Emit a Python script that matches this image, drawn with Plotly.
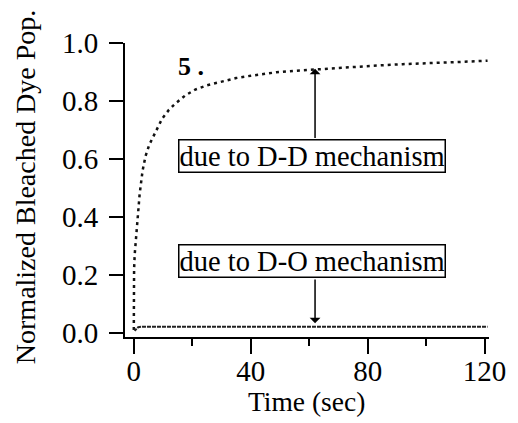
import plotly.graph_objects as go

# D-D mechanism curve (dotted)
t_dd = [0, 0, 0.1, 0.3, 0.7, 1.3, 2, 3, 4, 5.3, 7.7, 9.7, 12, 14, 17.6, 21, 25, 28.8,
        35, 40, 48.8, 55, 62, 70, 75, 84.6, 92, 100, 110, 121]
y_dd = [0.01, 0.15, 0.22, 0.27, 0.32, 0.39, 0.48, 0.56, 0.61, 0.65, 0.70, 0.74, 0.77,
        0.79, 0.82, 0.84, 0.855, 0.865, 0.88, 0.888, 0.90, 0.905, 0.91, 0.915, 0.918,
        0.924, 0.928, 0.93, 0.935, 0.94]

# D-O mechanism curve (near-flat)
t_do = [0, 0.5, 1.5, 3, 20, 40, 60, 80, 100, 121]
y_do = [0.015, 0.01, 0.02, 0.022, 0.022, 0.022, 0.022, 0.022, 0.022, 0.022]

x_ticks = [0, 40, 80, 120]
x_minor_ticks = [20, 60, 100]
y_ticks = [0.0, 0.2, 0.4, 0.6, 0.8, 1.0]
y_tick_labels = ["0.0", "0.2", "0.4", "0.6", "0.8", "1.0"]

FONT = "Liberation Serif, Times New Roman, serif"
FS = 27.5
BFS = 28.5
TFS = 29

fig = go.Figure()
fig.add_trace(go.Scatter(x=t_dd, y=y_dd, mode="lines",
                         line=dict(color="#111", width=2.5, dash="3px,4px"),
                         showlegend=False))
fig.add_trace(go.Scatter(x=t_do, y=y_do, mode="lines",
                         line=dict(color="#222", width=2, dash="4px,1px"),
                         showlegend=False))

annotations = [
    dict(x=19.6, y=0.921, xref="x", yref="y", text="<b>5</b> <b>.</b>", showarrow=False,
         font=dict(family=FONT, size=26, color="black")),
    dict(x=60.9, y=0.612, xref="x", yref="y", text="due to D-D mechanism", showarrow=False,
         font=dict(family=FONT, size=BFS, color="black"),
         bordercolor="black", borderwidth=1.5, borderpad=0, bgcolor="white"),
    dict(x=60.9, y=0.248, xref="x", yref="y", text="due to D-O mechanism", showarrow=False,
         font=dict(family=FONT, size=BFS, color="black"),
         bordercolor="black", borderwidth=1.5, borderpad=0, bgcolor="white"),
    # arrows
    dict(x=62, y=0.912, ax=62, ay=0.668, xref="x", yref="y", axref="x", ayref="y",
         text="", showarrow=True, arrowhead=1, arrowsize=1.2, arrowwidth=1.5, arrowcolor="black"),
    dict(x=62, y=0.034, ax=62, ay=0.19, xref="x", yref="y", axref="x", ayref="y",
         text="", showarrow=True, arrowhead=1, arrowsize=1.2, arrowwidth=1.5, arrowcolor="black"),
    # axis titles
    dict(x=(310 - 125) / 372, y=(337 - 401) / 294, xref="paper", yref="paper",
         text="Time (sec)", showarrow=False, xanchor="center", yanchor="middle",
         font=dict(family=FONT, size=FS, color="black")),
    dict(x=(23 - 125) / 372, y=(337 - 187) / 294, xref="paper", yref="paper",
         text="Normalized Bleached Dye Pop.", showarrow=False, textangle=-90,
         xanchor="center", yanchor="middle",
         font=dict(family=FONT, size=28, color="black")),
]

fig.update_layout(
    width=518, height=423,
    margin=dict(l=125, r=21, t=43, b=86),
    paper_bgcolor="white", plot_bgcolor="white",
    font=dict(family=FONT, size=FS, color="black"),
    annotations=annotations,
    xaxis=dict(range=[-3.01, 121.5], tickmode="array", tickvals=x_ticks,
               ticks="outside", ticklen=15, tickwidth=2, tickcolor="black",
               ticklabelstandoff=-8,
               showline=True, linecolor="black", linewidth=2,
               showgrid=False, zeroline=False,
               minor=dict(tickmode="array", tickvals=x_minor_ticks, ticks="outside",
                          ticklen=7, tickwidth=2, tickcolor="black", showgrid=False),
               tickfont=dict(family=FONT, size=TFS, color="black")),
    yaxis=dict(range=[-0.0138, 1.001], tickmode="array", tickvals=y_ticks, ticktext=y_tick_labels,
               ticks="outside", ticklen=14, tickwidth=2, tickcolor="black",
               ticklabelstandoff=5,
               showline=True, linecolor="black", linewidth=2,
               showgrid=False, zeroline=False,
               tickfont=dict(family=FONT, size=TFS, color="black")),
)

fig.write_html("out.html")
